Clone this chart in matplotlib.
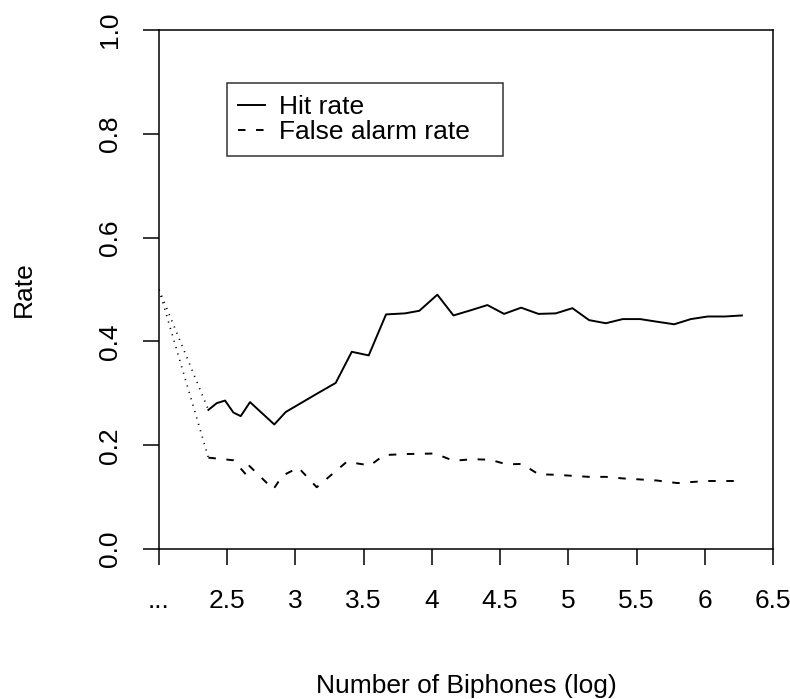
import matplotlib
matplotlib.use("Agg")
import matplotlib.pyplot as plt

plt.rcParams["font.family"] = ["Liberation Sans", "DejaVu Sans"]
plt.rcParams["lines.scale_dashes"] = False

# values
hit_x = [2.362, 2.423, 2.484, 2.545, 2.599, 2.667, 2.845, 2.929, 3.020, 3.156,
         3.295, 3.413, 3.537, 3.664, 3.803, 3.908, 4.040, 4.158, 4.285, 4.407,
         4.529, 4.654, 4.781, 4.908, 5.030, 5.152, 5.275, 5.399, 5.526, 5.648,
         5.776, 5.898, 6.022, 6.149, 6.272]
hit_y = [0.268, 0.281, 0.286, 0.263, 0.256, 0.283, 0.240, 0.264, 0.278, 0.299,
         0.320, 0.380, 0.373, 0.452, 0.454, 0.459, 0.490, 0.450, 0.460, 0.470,
         0.453, 0.465, 0.453, 0.454, 0.464, 0.441, 0.435, 0.443, 0.443, 0.438,
         0.433, 0.443, 0.448, 0.448, 0.450]

fa_x = [2.362, 2.545, 2.636, 2.655, 2.838, 2.904, 3.021, 3.156, 3.376, 3.547,
        3.650, 3.816, 4.023, 4.158, 4.300, 4.427, 4.550, 4.660, 4.781, 4.908,
        5.030, 5.152, 5.275, 5.399, 5.526, 5.648, 5.800, 5.898, 6.022, 6.149,
        6.272]
fa_y = [0.176, 0.171, 0.144, 0.162, 0.115, 0.141, 0.157, 0.119, 0.168, 0.161,
        0.181, 0.183, 0.184, 0.170, 0.173, 0.172, 0.163, 0.164, 0.144, 0.143,
        0.141, 0.139, 0.139, 0.136, 0.134, 0.132, 0.127, 0.129, 0.131, 0.131,
        0.131]

# chance level at the "..." start
start_x = 2.0
start_y = 0.5

x_ticks = [2.0, 2.5, 3.0, 3.5, 4.0, 4.5, 5.0, 5.5, 6.0, 6.5]
x_labels = ["...", "2.5", "3", "3.5", "4", "4.5", "5", "5.5", "6", "6.5"]
y_ticks = [0.0, 0.2, 0.4, 0.6, 0.8, 1.0]
y_labels = ["0.0", "0.2", "0.4", "0.6", "0.8", "1.0"]

fs = 19
lw = 1.4

fig = plt.figure(figsize=(7.9, 6.99), dpi=100)
ax = fig.add_axes([159 / 790, 1 - 549 / 699, 614 / 790, 519 / 699])

ax.plot(hit_x, hit_y, color="black", lw=lw, label="Hit rate")
ax.plot(fa_x, fa_y, color="black", lw=lw, linestyle=(0, (5.4, 7.6)),
        label="False alarm rate")
ax.plot([start_x, hit_x[0]], [start_y, hit_y[0]], color="black", lw=1.2,
        linestyle=(0, (0.8, 4.0)))
ax.plot([start_x, fa_x[0]], [start_y, fa_y[0]], color="black", lw=1.2,
        linestyle=(0, (0.8, 4.0)))

ax.set_xlim(2.0, 6.5)
ax.set_ylim(0.0, 1.0)
ax.set_xticks(x_ticks)
ax.set_xticklabels(x_labels, fontsize=fs)
ax.set_yticks(y_ticks)
ax.set_yticklabels(y_labels, fontsize=fs, rotation=90, va="center")
ax.tick_params(axis="both", direction="out", length=11.5, width=1.1,
               color="black")
ax.tick_params(axis="x", pad=17)
ax.tick_params(axis="y", pad=15)
for sp in ax.spines.values():
    sp.set_linewidth(1.1)
    sp.set_color("black")

ax.set_xlabel("Number of Biphones (log)", fontsize=fs)
ax.xaxis.set_label_coords(0.5, -0.24)
ax.set_ylabel("Rate", fontsize=fs)
ax.yaxis.set_label_coords(-0.2, 0.5)

leg = ax.legend(loc="upper left", bbox_to_anchor=(0.110, 0.5, 0.4505, 0.398),
                mode="expand", borderaxespad=0, fontsize=fs, frameon=True,
                fancybox=False, handlelength=1.02, handletextpad=0.5,
                borderpad=0.45, labelspacing=0.04)
leg.get_frame().set_edgecolor("black")
leg.get_frame().set_linewidth(1.1)

fig.savefig("out.png", dpi=100)
